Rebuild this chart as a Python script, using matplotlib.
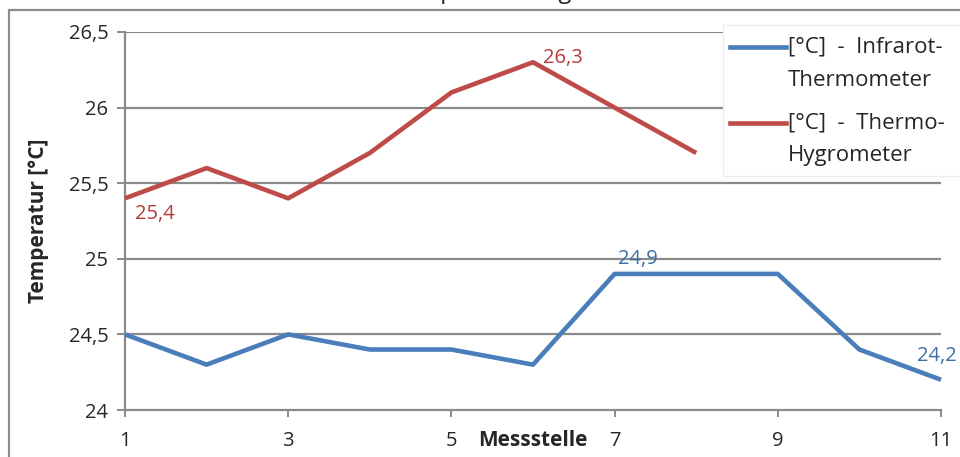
import matplotlib
matplotlib.use("Agg")
import matplotlib.pyplot as plt
from matplotlib.lines import Line2D
from matplotlib.patches import Rectangle

plt.rcParams['font.family'] = ['Open Sans', 'DejaVu Sans']

# Measurement points and readings
stellen_ir = [1, 2, 3, 4, 5, 6, 7, 8, 9, 10, 11]
infrarot = [24.5, 24.3, 24.5, 24.4, 24.4, 24.3, 24.9, 24.9, 24.9, 24.4, 24.2]
stellen_th = [1, 2, 3, 4, 5, 6, 7, 8]
thermo_hygro = [25.4, 25.6, 25.4, 25.7, 26.1, 26.3, 26.0, 25.7]

x_ticks = [1, 3, 5, 7, 9, 11]
y_ticks = [24, 24.5, 25, 25.5, 26, 26.5]
y_ticklabels = ['24', '24,5', '25', '25,5', '26', '26,5']

legend_ir = ['[°C]  -  Infrarot-', 'Thermometer']
legend_th = ['[°C]  -  Thermo-', 'Hygrometer']

BLUE = '#4a7ebb'
RED = '#be4b48'
GRID = '#8a8a8a'
TXT = '#262626'

W, H = 960, 457
fig = plt.figure(figsize=(W / 100, H / 100), dpi=100)

def fx(px):
    return px / W

def fy(py):
    return 1 - py / H

# outer chart frame
fig.add_artist(Rectangle((fx(9), fy(470)), fx(1000), fy(10) - fy(470),
                         transform=fig.transFigure, fill=False,
                         edgecolor='#8c8c8c', lw=1.6))

# chart title (mostly above the visible area)
fig.text(fx(508), 1 + 1.5 / H, 'Temperaturvergleich', ha='center',
         va='baseline', fontsize=17, color=TXT)

ax = fig.add_axes([fx(125), fy(410), fx(941) - fx(125), fy(32) - fy(410)])
ax.set_xlim(1, 11)
ax.set_ylim(24, 26.5)

for v in y_ticks[1:]:
    ax.axhline(v, color=GRID, lw=1.6, zorder=1)

ax.plot(stellen_ir, infrarot, color=BLUE, lw=3.3, zorder=3,
        solid_joinstyle='round', solid_capstyle='butt', clip_on=False)
ax.plot(stellen_th, thermo_hygro, color=RED, lw=3.3, zorder=3,
        solid_joinstyle='round', solid_capstyle='butt', clip_on=False)

def fmt(v):
    return f'{v:.1f}'.replace('.', ',')

lab_kw = dict(fontsize=14.5, zorder=4)
ax.annotate(fmt(thermo_hygro[0]), (stellen_th[0], thermo_hygro[0]),
            xytext=(7, -11), textcoords='offset points', ha='left',
            va='center', color='#b53a3a', **lab_kw)
ax.annotate(fmt(thermo_hygro[5]), (stellen_th[5], thermo_hygro[5]),
            xytext=(7, 3), textcoords='offset points', ha='left',
            va='center', color='#b53a3a', **lab_kw)
ax.annotate(fmt(infrarot[6]), (stellen_ir[6], infrarot[6]),
            xytext=(17, 11), textcoords='offset points', ha='center',
            va='center', color='#3b6ea5', **lab_kw)
ax.annotate(fmt(infrarot[10]), (stellen_ir[10], infrarot[10]),
            xytext=(-3, 17), textcoords='offset points', ha='center',
            va='center', color='#3b6ea5', annotation_clip=False, **lab_kw)

for side in ('top', 'right'):
    ax.spines[side].set_visible(False)
for side in ('left', 'bottom'):
    ax.spines[side].set_color(GRID)
    ax.spines[side].set_linewidth(1.6)
ax.spines['bottom'].set_zorder(2)

ax.set_xticks(x_ticks)
ax.set_xticklabels([str(t) for t in x_ticks])
ax.set_yticks(y_ticks)
ax.set_yticklabels(y_ticklabels)
ax.tick_params(axis='y', length=6, width=1.4, color=GRID, labelsize=14.5,
               labelcolor=TXT, pad=6)
ax.tick_params(axis='x', length=5, width=1.4, color=GRID, labelsize=14.5,
               labelcolor=TXT, pad=10)

ax.set_ylabel('Temperatur [°C]', fontsize=15, fontweight='bold',
              color=TXT, labelpad=14)
fig.text(fx(533), fy(441), 'Messstelle', ha='center', va='center',
         fontsize=15, fontweight='bold', color=TXT)

# legend box drawn over the plot area
fig.add_artist(Rectangle((fx(723), fy(176)), fx(300), fy(25) - fy(176),
                         transform=fig.transFigure, facecolor='white',
                         edgecolor='#eeeeee', lw=1, zorder=5))
for (col, lines, y0) in ((BLUE, legend_ir, 47), (RED, legend_th, 123)):
    fig.add_artist(Line2D([fx(730), fx(786)], [fy(y0), fy(y0)],
                          transform=fig.transFigure, color=col, lw=3.3,
                          zorder=6))
    fig.text(fx(788), fy(y0), lines[0], ha='left', va='center',
             fontsize=16, color=TXT, zorder=6)
    fig.text(fx(788), fy(y0 + 33), lines[1], ha='left', va='center',
             fontsize=16, color=TXT, zorder=6)

fig.savefig('out.png', dpi=100)
